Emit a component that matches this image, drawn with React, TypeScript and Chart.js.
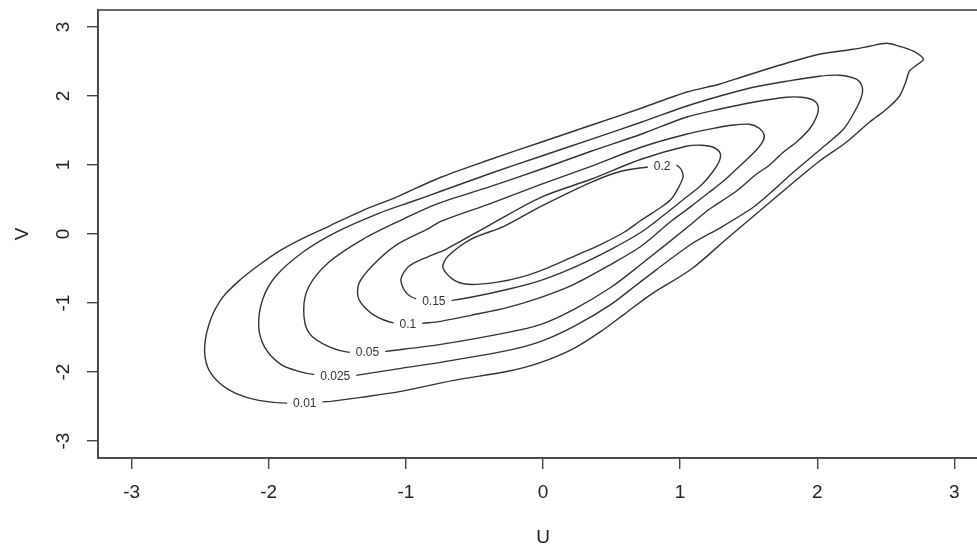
import React, { useEffect, useRef } from "react";
import { Chart, registerables } from "chart.js";

Chart.register(...registerables);

// Contour levels and their labels
const levels = [0.01, 0.025, 0.05, 0.1, 0.15, 0.2];
const levelLabels = ["0.01", "0.025", "0.05", "0.1", "0.15", "0.2"];
// label anchor positions (data units)
const labelU = [-1.737, -1.515, -1.28, -0.985, -0.796, 0.869];
const labelV = [-2.453, -2.053, -1.719, -1.309, -0.971, 0.986];

const xTicks = [-3, -2, -1, 0, 1, 2, 3];
const yTicks = [-3, -2, -1, 0, 1, 2, 3];
const xTitle = "U";
const yTitle = "V";
const xRange = [-3.245, 3.245];
const yRange = [-3.245, 3.245];

// contour paths [u, v]
const contour001: [number, number][] = [
  [-1.547, -2.425], [-1.328, -2.367], [-1.036, -2.28], [-0.65, -2.12], [-0.255, -1.988],
  [-0.015, -1.859], [0.226, -1.656], [0.423, -1.41], [0.591, -1.164], [0.788, -0.874],
  [1.08, -0.511], [1.336, -0.077], [1.577, 0.329], [1.81, 0.72], [2.015, 1.054],
  [2.212, 1.329], [2.38, 1.619], [2.504, 1.807], [2.599, 1.996], [2.642, 2.184],
  [2.672, 2.358], [2.723, 2.445], [2.774, 2.532], [2.701, 2.648], [2.599, 2.72],
  [2.504, 2.764], [2.38, 2.72], [2.263, 2.677], [2.015, 2.604], [1.774, 2.474],
  [1.628, 2.387], [1.445, 2.271], [1.285, 2.17], [1.044, 2.054], [0.715, 1.822],
  [0.35, 1.575], [-0.015, 1.329], [-0.38, 1.083], [-0.745, 0.822], [-1.073, 0.532],
  [-1.328, 0.329], [-1.562, 0.112], [-1.766, -0.077], [-1.927, -0.251], [-2.073, -0.453],
  [-2.204, -0.656], [-2.336, -0.917], [-2.423, -1.236], [-2.467, -1.627], [-2.445, -1.931],
  [-2.365, -2.149], [-2.241, -2.308], [-2.073, -2.41], [-1.839, -2.454], [-1.547, -2.425],
];

const contour0025: [number, number][] = [
  [-1.365, -2.048], [-1.036, -1.946], [-0.745, -1.859], [-0.255, -1.686], [-0.015, -1.555],
  [0.226, -1.338], [0.496, -1.019], [0.715, -0.686], [1.08, -0.149], [1.299, 0.097],
  [1.533, 0.387], [1.664, 0.604], [1.825, 0.894], [2.015, 1.213], [2.19, 1.517],
  [2.27, 1.764], [2.321, 1.981], [2.328, 2.126], [2.285, 2.242], [2.161, 2.3],
  [2.015, 2.286], [1.774, 2.213], [1.533, 2.126], [1.285, 1.996], [1.044, 1.851],
  [0.715, 1.619], [0.35, 1.372], [-0.015, 1.126], [-0.38, 0.88], [-0.745, 0.619],
  [-0.949, 0.474], [-1.197, 0.3], [-1.511, 0.025], [-1.752, -0.264], [-1.949, -0.612],
  [-2.044, -0.946], [-2.073, -1.337], [-2.029, -1.641], [-1.912, -1.888], [-1.781, -1.989],
  [-1.672, -2.033], [-1.365, -2.048],
];

const contour005: [number, number][] = [
  [-1.146, -1.7], [-0.745, -1.599], [-0.255, -1.425], [-0.015, -1.309], [0.226, -1.091],
  [0.496, -0.772], [0.715, -0.439], [1.08, 0.141], [1.212, 0.358], [1.409, 0.619],
  [1.555, 0.865], [1.65, 0.996], [1.752, 1.184], [1.847, 1.329], [1.942, 1.517],
  [1.993, 1.691], [2.007, 1.836], [1.971, 1.938], [1.883, 1.981], [1.774, 1.981],
  [1.533, 1.909], [1.285, 1.807], [1.044, 1.691], [0.715, 1.445], [0.35, 1.199],
  [-0.015, 0.938], [-0.38, 0.691], [-0.781, 0.43], [-1.022, 0.213], [-1.314, -0.077],
  [-1.562, -0.41], [-1.708, -0.764], [-1.745, -1.096], [-1.708, -1.43], [-1.562, -1.633],
  [-1.387, -1.72], [-1.146, -1.7],
];

const contour01: [number, number][] = [
  [-0.876, -1.294], [-0.745, -1.265], [-0.526, -1.178], [-0.255, -1.062], [-0.015, -0.917],
  [0.226, -0.729], [0.496, -0.439], [0.715, -0.178], [0.934, 0.184], [1.08, 0.401],
  [1.212, 0.604], [1.314, 0.764], [1.409, 0.938], [1.533, 1.17], [1.599, 1.329],
  [1.613, 1.43], [1.577, 1.532], [1.504, 1.59], [1.372, 1.575], [1.285, 1.546],
  [1.044, 1.445], [0.715, 1.257], [0.35, 0.981], [-0.015, 0.72], [-0.38, 0.445],
  [-0.745, 0.184], [-0.832, 0.083], [-1.073, -0.164], [-1.241, -0.453], [-1.343, -0.72],
  [-1.343, -0.946], [-1.241, -1.164], [-1.073, -1.294], [-0.876, -1.294],
];

const contour015: [number, number][] = [
  [-0.708, -0.975], [-0.526, -0.917], [-0.255, -0.801], [-0.015, -0.671], [0.226, -0.483],
  [0.496, -0.222], [0.715, 0.025], [0.861, 0.242], [1.044, 0.532], [1.153, 0.706],
  [1.241, 0.909], [1.285, 1.054], [1.292, 1.17], [1.241, 1.257], [1.153, 1.286],
  [1.044, 1.271], [0.715, 1.083], [0.35, 0.793], [-0.015, 0.532], [-0.38, 0.141],
  [-0.708, -0.222], [-0.832, -0.323], [-0.978, -0.468], [-1.036, -0.656], [-1.0, -0.845],
  [-0.912, -0.946], [-0.708, -0.975],
];

const contour02: [number, number][] = [
  [0.978, 0.996], [1.007, 0.938], [1.022, 0.836], [0.993, 0.691], [0.934, 0.503],
  [0.839, 0.358], [0.715, 0.199], [0.591, 0.025], [0.423, -0.149], [0.226, -0.323],
  [0.044, -0.483], [-0.139, -0.613], [-0.343, -0.7], [-0.547, -0.729], [-0.657, -0.657],
  [-0.73, -0.483], [-0.693, -0.323], [-0.526, -0.077], [-0.285, 0.112], [-0.015, 0.401],
  [0.35, 0.749], [0.569, 0.909], [0.752, 0.967], [0.978, 0.996],
];

const contours = [contour001, contour0025, contour005, contour01, contour015, contour02];

const LINE = "#333333";
const AXIS = "#444444";
const FONT = '"Liberation Sans", Arial, Helvetica, sans-serif';

const decorPlugin = {
  id: "decor",
  afterDatasetsDraw(chart: any) {
    const { ctx, chartArea, scales } = chart;
    const xs = scales.x;
    const ys = scales.y;
    ctx.save();
    // contour labels, breaking the lines
    ctx.font = `12px ${FONT}`;
    ctx.textAlign = "center";
    ctx.textBaseline = "middle";
    levelLabels.forEach((t, i) => {
      const px = xs.getPixelForValue(labelU[i]);
      const py = ys.getPixelForValue(labelV[i]);
      const w = ctx.measureText(t).width + 12;
      ctx.fillStyle = "#ffffff";
      ctx.fillRect(px - w / 2, py - 6, w, 12);
      ctx.fillStyle = "#333333";
      ctx.fillText(t, px, py + 0.5);
    });
    // box
    ctx.strokeStyle = AXIS;
    ctx.lineWidth = 1.6;
    ctx.strokeRect(
      chartArea.left,
      chartArea.top,
      chartArea.right - chartArea.left,
      chartArea.bottom - chartArea.top
    );
    // tick labels
    ctx.fillStyle = "#222222";
    ctx.font = `19px ${FONT}`;
    ctx.textAlign = "center";
    ctx.textBaseline = "middle";
    xTicks.forEach((v) => {
      ctx.fillText(String(v), xs.getPixelForValue(v), chartArea.bottom + 35);
    });
    yTicks.forEach((v) => {
      ctx.save();
      ctx.translate(chartArea.left - 34, ys.getPixelForValue(v));
      ctx.rotate(-Math.PI / 2);
      ctx.fillText(String(v), 0, 0);
      ctx.restore();
    });
    // axis titles
    ctx.fillText(xTitle, xs.getPixelForValue(0), chartArea.bottom + 80);
    ctx.save();
    ctx.translate(chartArea.left - 75, ys.getPixelForValue(0));
    ctx.rotate(-Math.PI / 2);
    ctx.fillText(yTitle, 0, 0);
    ctx.restore();
    ctx.restore();
  },
};

export default function App() {
  const canvasRef = useRef<HTMLCanvasElement | null>(null);

  useEffect(() => {
    const canvas = canvasRef.current;
    if (!canvas) return;
    const chart = new Chart(canvas, {
      type: "scatter",
      data: {
        datasets: contours.map((c, i) => ({
          label: String(levels[i]),
          data: c.map(([u, v]) => ({ x: u, y: v })),
          showLine: true,
          borderColor: LINE,
          borderWidth: 1.4,
          pointRadius: 0,
          tension: 0.3,
          fill: false,
        })),
      },
      options: {
        responsive: false,
        animation: false,
        events: [],
        layout: { padding: { top: 10, right: 4, left: 0, bottom: 0 } },
        plugins: {
          legend: { display: false },
          tooltip: { enabled: false },
        },
        scales: {
          x: {
            type: "linear",
            min: xRange[0],
            max: xRange[1],
            afterBuildTicks: (s: any) => {
              s.ticks = xTicks.map((v) => ({ value: v }));
            },
            afterFit: (s: any) => {
              s.height = 93;
            },
            ticks: { display: false },
            grid: {
              display: true,
              drawOnChartArea: false,
              drawTicks: true,
              tickLength: 11,
              color: AXIS,
              lineWidth: 1.4,
            },
            border: { display: true, color: AXIS, width: 1.6 },
          },
          y: {
            type: "linear",
            min: yRange[0],
            max: yRange[1],
            afterBuildTicks: (s: any) => {
              s.ticks = yTicks.map((v) => ({ value: v }));
            },
            afterFit: (s: any) => {
              s.width = 98;
            },
            ticks: { display: false },
            grid: {
              display: true,
              drawOnChartArea: false,
              drawTicks: true,
              tickLength: 11,
              color: AXIS,
              lineWidth: 1.4,
            },
            border: { display: true, color: AXIS, width: 1.6 },
          },
        },
      },
      plugins: [decorPlugin],
    });
    return () => chart.destroy();
  }, []);

  return (
    <div
      style={{
        position: "fixed",
        left: 0,
        top: 0,
        width: 977,
        height: 551,
        overflow: "hidden",
        background: "#ffffff",
      }}
    >
      <canvas
        ref={canvasRef}
        width={992}
        height={551}
        style={{ display: "block", width: 992, height: 551 }}
      />
    </div>
  );
}
